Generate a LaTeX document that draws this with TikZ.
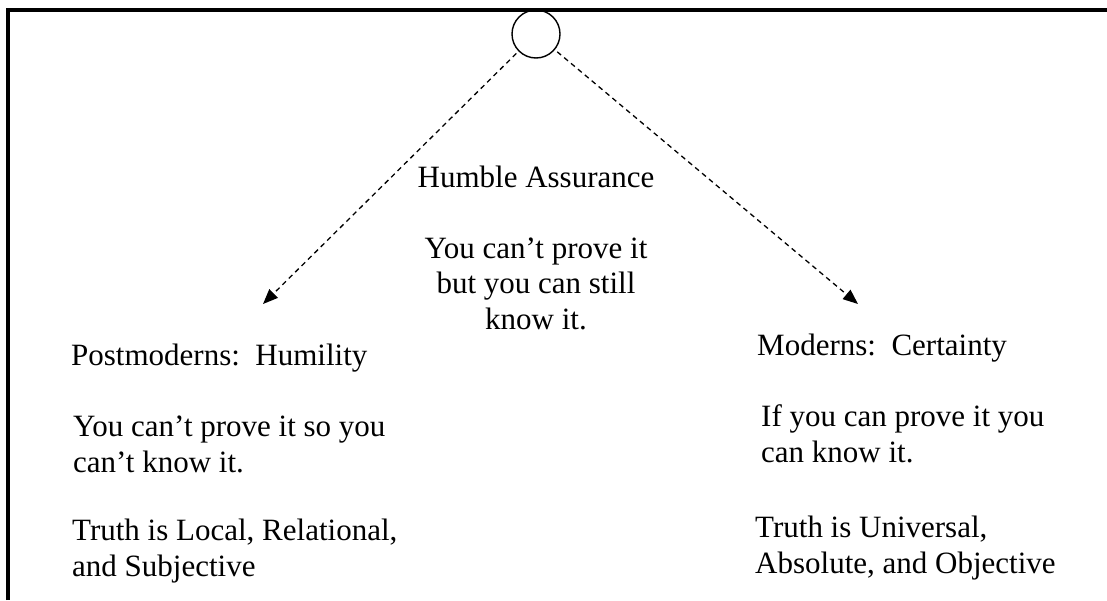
\documentclass[tikz,border=0pt]{standalone}
\usepackage{fontspec}
\setmainfont{Liberation Serif}
\usetikzlibrary{arrows.meta}
\begin{document}
\begin{tikzpicture}[x=1pt,y=-1pt,
  txt/.style={inner sep=0pt, font=\fontsize{31}{35.5}\selectfont, align=left},
  ctxt/.style={inner sep=0pt, font=\fontsize{31}{35.5}\selectfont, align=center},
  frame/.style={line width=4pt},
  dasharrow/.style={line width=1.3pt, dash pattern=on 5pt off 4pt,
    -{Triangle[length=15pt,width=12pt]}}]
\useasboundingbox (0,0) rectangle (1107,600);
\draw[frame] (8,600) -- (8,10) -- (1107,10);
\node[circle, draw, line width=1.4pt, minimum size=48pt, inner sep=0pt] (top) at (536,34) {};
\coordinate (tl) at (263,304);
\coordinate (tr) at (858,304);
\draw[dasharrow, shorten <=3pt] (top) -- (tl);
\draw[dasharrow, shorten <=3pt] (top) -- (tr);
% centre (anchor base = baseline of the last line)
\node[ctxt, anchor=base] (ha) at (536,187) {Humble Assurance};
\node[ctxt, anchor=base] (hb) at (536,329) {You can’t prove it\\but you can still\\know it.};
% left
\node[txt, anchor=base west] (pm) at (71,365) {Postmoderns:\ \ Humility};
\node[txt, anchor=base west] (pa) at (73,472) {You can’t prove it so you\\can’t know it.};
\node[txt, anchor=base west] (pt) at (72,576) {Truth is Local, Relational,\\and Subjective};
% right
\node[txt, anchor=base west] (mo) at (757,355) {Moderns:\ \ Certainty};
\node[txt, anchor=base west] (ma) at (761,462) {If you can prove it you\\can know it.};
\node[txt, anchor=base west] (mt) at (755,573) {Truth is Universal,\\Absolute, and Objective};
\end{tikzpicture}
\end{document}
